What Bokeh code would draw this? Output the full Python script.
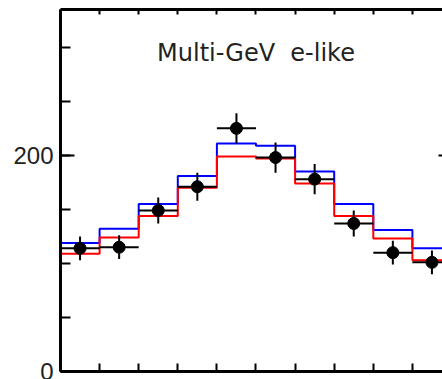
from bokeh.plotting import figure
from bokeh.models import LinearAxis, FixedTicker, Range1d, ColumnDataSource
from bokeh.core.properties import value
from bokeh.embed import file_html
from bokeh.resources import INLINE

# cos(zenith) bin edges and centres
bin_edges = [-1.0, -0.8, -0.6, -0.4, -0.2, 0.0, 0.2, 0.4, 0.6, 0.8, 1.0]
cosz = [-0.9, -0.7, -0.5, -0.3, -0.1, 0.1, 0.3, 0.5, 0.7, 0.9]
half_bin = 0.1

# data points and errors
data_counts = [114, 115, 149, 171, 225, 198, 178, 137, 110, 101]
data_err = [11, 11, 12, 13, 14, 14, 14, 12, 11, 11]

# MC histograms
mc_blue = [119, 132, 155, 181, 211, 209, 185, 155, 131, 114]
mc_red = [109, 124, 144, 170, 199, 197, 174, 144, 123, 103]

title_text = "Multi-GeV\u00a0 e-like"
y_major = [0, 200]
y_minor = [0, 50, 100, 150, 200, 250, 300]

p = figure(width=442, height=379, output_backend="svg", toolbar_location=None,
           x_range=Range1d(-1.0, 0.954), y_range=Range1d(0, 335),
           x_axis_location=None, y_axis_location=None,
           min_border_left=60, min_border_right=0, min_border_top=9, min_border_bottom=8)
p.outline_line_color = None
p.xgrid.visible = False
p.ygrid.visible = False
p.background_fill_color = "white"
p.border_fill_color = "white"

left = LinearAxis(ticker=FixedTicker(ticks=y_major, minor_ticks=y_minor),
                  major_tick_in=14, major_tick_out=0, minor_tick_in=10, minor_tick_out=0,
                  axis_line_width=3, major_tick_line_width=2, minor_tick_line_width=2,
                  major_label_text_font="Liberation Sans", major_label_text_font_size="24px",
                  major_label_standoff=7, major_label_text_color="#222222")
p.add_layout(left, "left")

def blank_axis(ticks, tick_in, line=True):
    ax = LinearAxis(ticker=FixedTicker(ticks=ticks, minor_ticks=[]),
                    major_tick_in=tick_in, major_tick_out=0,
                    axis_line_width=3, major_tick_line_width=2,
                    major_label_text_color=None, major_label_standoff=0)
    if not line:
        ax.axis_line_color = None
    return ax

p.add_layout(blank_axis(bin_edges, 8), "below")
p.add_layout(blank_axis(bin_edges, 5), "above")
p.add_layout(blank_axis([200], 4, line=False), "right")

p.step(x=bin_edges, y=mc_blue + [mc_blue[-1]], mode="after", line_color="blue", line_width=2)
p.step(x=bin_edges, y=mc_red + [mc_red[-1]], mode="after", line_color="red", line_width=2)

src = ColumnDataSource(dict(
    x=cosz, y=data_counts,
    xl=[c - half_bin for c in cosz], xh=[c + half_bin for c in cosz],
    yl=[d - e for d, e in zip(data_counts, data_err)],
    yh=[d + e for d, e in zip(data_counts, data_err)],
))
p.segment(x0="xl", x1="xh", y0="y", y1="y", source=src, line_color="black", line_width=2)
p.segment(x0="x", x1="x", y0="yl", y1="yh", source=src, line_color="black", line_width=2)
p.scatter(x="x", y="y", source=src, size=12, color="black")

p.text(x=[0.0], y=[294.4], text=[title_text], text_font=value("DejaVu Sans"),
       text_font_size=value("24px"), text_align="center", text_baseline="alphabetic",
       text_color="#222222")

open("out.html", "w").write(file_html(p, INLINE))
